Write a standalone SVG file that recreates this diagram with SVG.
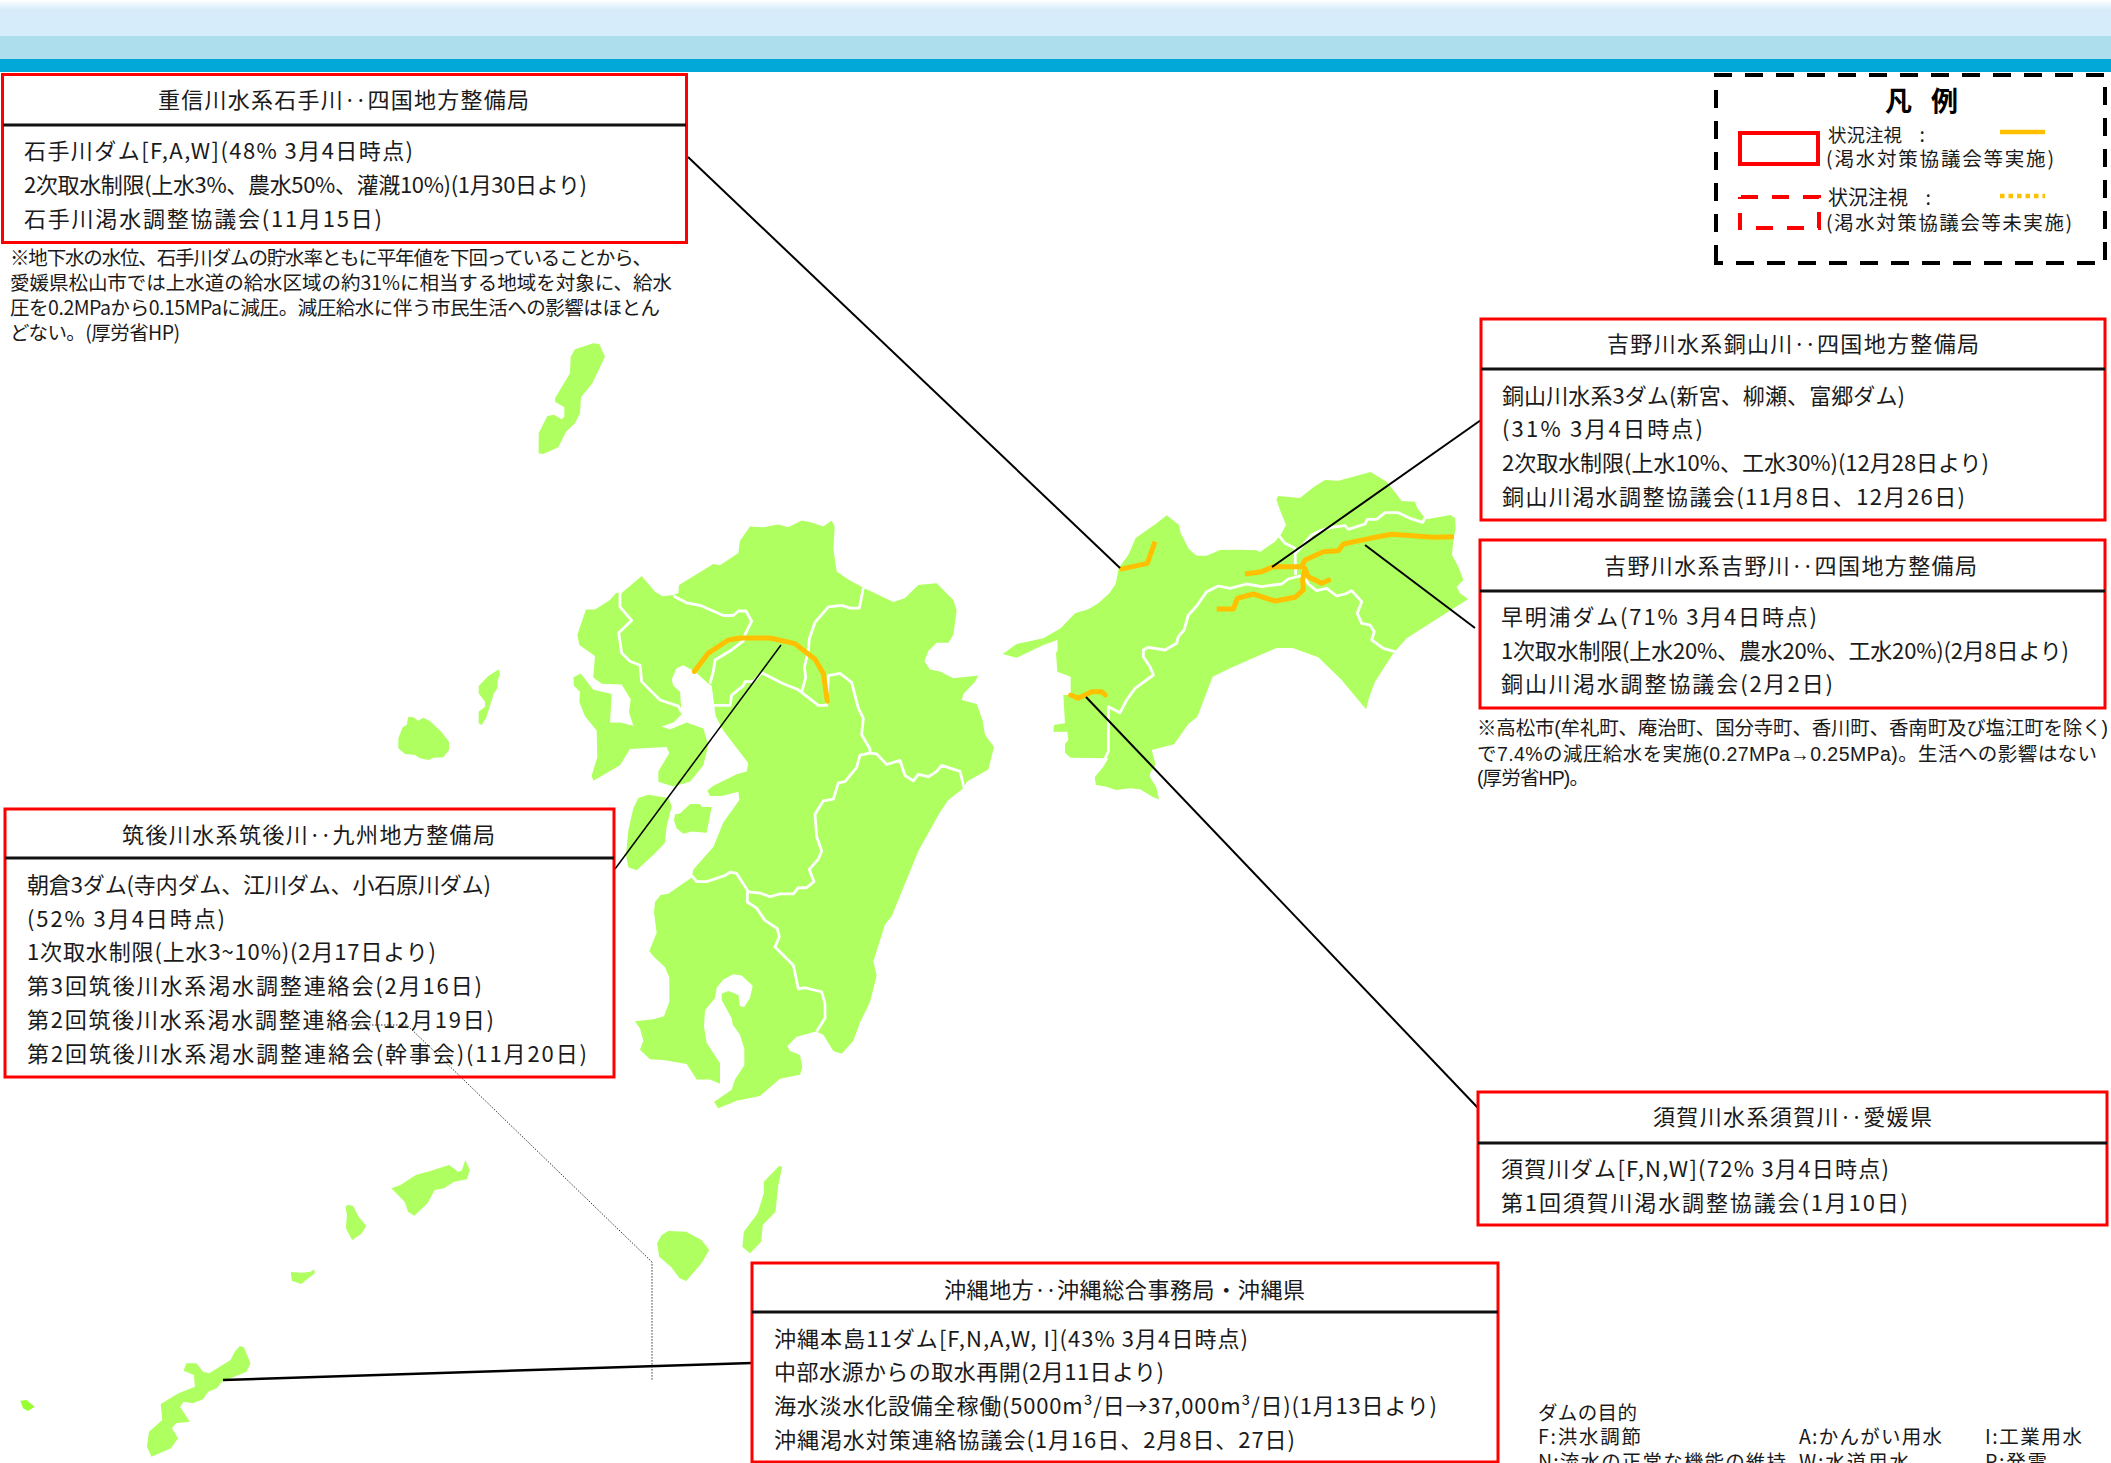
<svg xmlns="http://www.w3.org/2000/svg" width="2111" height="1463" viewBox="0 0 2111 1463">
<style>
text{font-family:"Noto Sans CJK JP","Liberation Sans",sans-serif;fill:#1a1a1a;font-size:22px}
.note{font-size:19.500px}
.note2{font-size:19.500px;font-family:"Liberation Sans","Noto Sans CJK JP",sans-serif}
.leg{font-size:19.500px}
.land{fill:#AEFF5F;stroke:none}
.bound{fill:none;stroke:#fff;stroke-width:2.800;stroke-linejoin:round;vector-effect:non-scaling-stroke}
.river{fill:none;stroke:#FFC000;stroke-width:5;stroke-linejoin:round;vector-effect:non-scaling-stroke}
.box{fill:none;stroke:#FF0000;stroke-width:3}
.div{stroke:#111;stroke-width:3}
.con{stroke:#000;stroke-width:2;fill:none}
</style>
<defs>
<linearGradient id="top" x1="0" y1="0" x2="0" y2="1"><stop offset="0" stop-color="#fff"/><stop offset="0.28" stop-color="#D6ECFA"/><stop offset="1" stop-color="#D6ECFA"/></linearGradient>
</defs>
<rect width="2111" height="1463" fill="#fff"/>
<g id="header">
<rect x="0" y="0" width="2111" height="36" fill="url(#top)"/>
<rect x="0" y="36" width="2111" height="23" fill="#ADDEEE"/>
<rect x="0" y="59" width="2111" height="13" fill="#02A9D8"/>
</g>
<g id="map">
<g id="shikoku" transform="translate(980,440) scale(.33333)">
<path class="land" d="M68,642L110,612L190,595L242,565L285,520L325,508L355,490L388,460L407,432L416,385L445,345L467,294L530,250L560,226L597,255L602,280L627,328L650,347L680,347L720,330L775,329L830,331L840,336L885,305L905,280L918,255L900,210L889,178L895,168L960,174L1000,142L1035,120L1075,122L1172,96L1220,125L1240,150L1265,183L1305,185L1312,205L1332,230L1340,238L1412,225L1425,235L1427,265L1420,300L1416,345L1435,380L1450,420L1430,440L1440,460L1465,477L1400,518L1280,595L1240,640L1185,725L1168,770L1158,808L1085,720L1015,652L938,624L890,624L840,645L750,685L698,710L675,770L652,830L625,852L582,913L515,930L527,975L510,1000L510,1012L528,1040L537,1078L520,1072L480,1048L450,1045L408,1050L380,1040L348,1035L344,1012L370,980L385,955L272,953L255,938L255,912L265,900L262,875L220,875L222,855L255,850L250,765L272,765L272,710L232,695L228,640L233,630L232,600L190,615L110,653Z"/>
<path class="bound" d="M1245,635L1210,625L1175,600L1183,575L1170,555L1145,550L1132,520L1145,485L1115,452L1095,462L1070,468L1040,445L1010,452L985,432L975,415L960,408L925,417L905,432L880,435L845,440L800,432L750,445L715,438L680,455L650,498L625,525L612,570L595,590L590,610L555,630L505,622L490,630L490,650L510,680L520,705L465,745L440,780L420,818L385,800L385,935L375,955"/>
<path class="bound" d="M895,285L915,310L945,325L947,405"/>
<path class="bound" d="M947,340L995,285L1020,272L1055,262L1095,257L1105,268L1155,252L1162,238L1190,238L1215,218L1255,218L1290,235L1328,247L1335,233"/>
<path class="river" d="M420,388L502,370L525,305"/>
<path class="river" d="M795,402L845,395L880,380L965,380L975,360L1030,335L1075,332L1090,312L1170,295L1235,283L1360,292L1422,290"/>
<path class="river" d="M710,507L760,507L772,475L820,462L885,483L945,472L970,450L968,420L975,385L985,410L1025,430L1052,418"/>
<path class="river" stroke-linecap="round" d="M272,765L295,775L335,755L365,755L376,765"/>
</g>
<g id="kyushu" transform="translate(540,500) scale(.33333,.40816)">
<path class="land" d="M138,268L165,268L210,245L228,228L245,228L305,186L345,225L368,236L400,233L415,228L417,208L520,157L540,160L595,130L600,100L630,65L670,67L715,60L745,67L785,50L815,55L850,65L875,50L884,65L880,120L890,175L925,195L970,215L1060,250L1095,240L1135,208L1190,204L1240,245L1250,270L1240,330L1225,350L1190,350L1165,370L1153,395L1170,415L1200,420L1240,437L1315,430L1305,445L1270,475L1265,490L1310,500L1328,540L1335,575L1362,605L1345,660L1280,690L1272,705L1225,735L1200,765L1135,860L1055,1020L1035,1040L1000,1130L1010,1165L990,1230L960,1280L940,1325L905,1357L880,1350L850,1310L828,1302L770,1315L742,1338L750,1350L780,1360L787,1390L780,1408L720,1418L660,1460L590,1472L535,1490L522,1475L575,1445L585,1420L613,1385L613,1345L600,1310L578,1285L575,1270L545,1225L545,1210L565,1203L595,1213L600,1240L612,1243L630,1220L638,1190L605,1165L580,1162L550,1175L530,1195L525,1220L495,1250L492,1290L500,1330L540,1380L540,1430L510,1420L470,1420L440,1382L370,1372L330,1370L300,1347L310,1325L300,1295L285,1277L340,1272L372,1265L388,1230L388,1170L375,1145L340,1118L328,1105L350,1060L342,1010L345,985L362,968L385,965L455,925L460,905L520,850L550,790L598,735L595,715L545,725L510,725L502,712L520,700L590,672L620,665L625,645L550,565L527,530L515,455L505,450L465,420L430,405L410,412L395,440L400,455L420,470L425,525L400,545L365,555L390,562L440,545L490,560L505,600L490,650L450,690L400,702L355,690L355,665L388,620L380,605L270,610L240,650L160,688L155,675L172,630L170,565L135,530L118,495L120,470L102,455L100,435L122,425L160,465L215,475L210,545L240,545L280,553L267,520L272,488L245,452L185,450L160,435L165,382L118,355L112,330Z"/>
<path class="land" d="M295,730L325,722L385,730L395,750L380,800L375,840L340,870L290,907L265,900L258,870L265,810L280,755Z"/>
<path class="land" d="M405,770L420,768L450,745L480,745L485,752L515,752L500,815L455,812L430,818L410,805L402,785Z"/>
<path class="bound" d="M240,228L240,262L275,295L236,325L245,375L270,395L300,405L305,445L360,490L415,505L425,520"/>
<path class="bound" d="M400,235L440,252L480,258L550,283L580,283L595,272L618,272L635,297L615,330L610,345L570,370L525,392L520,420L510,450"/>
<path class="bound" d="M970,215L958,265L930,265L905,258L865,262L825,300L808,340L805,370L793,410L797,435L785,470"/>
<path class="bound" d="M515,503L570,503L575,478L610,455L615,445L640,445L665,423L730,450L775,465L835,503L860,503L865,430L900,425L935,447L955,510L970,535L965,575L990,610L990,620L960,625L950,655L915,690L895,693L880,733L850,737L825,770L830,825L845,860L835,880L808,905L822,935L800,950L775,950L760,965L720,965L690,972L660,963L625,960L590,915L570,912L555,920L500,935L470,935L455,920"/>
<path class="bound" d="M990,620L1010,622L1040,648L1080,638L1095,675L1120,688L1135,672L1165,678L1190,665L1205,650L1260,665L1272,705"/>
<path class="bound" d="M622,960L622,985L650,1000L675,1030L712,1050L718,1070L705,1095L760,1140L775,1198L795,1195L845,1205L855,1235L855,1270L830,1302"/>
<path class="river" stroke-linecap="round" d="M463,420L505,375L565,343L600,338L690,338L765,352L825,390L850,425L862,493"/>
</g>
<g id="northwest-islands" transform="translate(380,320) scale(.33333)">
<path class="land" d="M640,70L658,72L675,110L637,190L603,232L600,280L585,310L558,335L535,382L490,402L476,400L476,340L502,288L522,284L545,298L553,290L553,262L525,245L525,235L570,160L572,110L585,88Z"/>
<path class="land" d="M357,1048L360,1065L353,1080L352,1105L342,1120L318,1195L305,1215L296,1210L296,1175L315,1160L315,1145L296,1120L296,1098L325,1068Z"/>
<path class="land" d="M85,1190L100,1192L115,1202L130,1193L150,1203L185,1237L207,1265L207,1290L190,1312L160,1313L147,1320L120,1315L105,1305L75,1302L55,1285L55,1255L68,1222L80,1215Z"/>
</g>
<g id="southwest-islands" transform="translate(0,1100) scale(.5102,.33333)">
<path class="land" d="M470,738L478,742L491,790L483,815L435,845L425,865L408,875L398,898L378,910L360,905L353,920L372,965L345,970L337,985L349,1015L335,1045L297,1070L288,1040L292,995L318,960L315,912L350,880L382,860L380,825L360,812L365,790L385,790L398,815L410,820L452,780L460,755Z"/>
<path d="M40,902L52,900L68,920L55,933L45,925Z" fill="#99FF33"/>
<path class="land" d="M570,516L590,518L608,516L616,508L617,520L590,552L572,542Z"/>
<path class="land" d="M682,314L692,318L703,350L718,378L708,402L690,420L678,385L680,345L677,320Z"/>
<path class="land" d="M767,265L785,255L815,225L845,212L880,195L898,215L905,212L912,180L921,210L915,238L890,245L870,265L852,270L838,310L812,347L800,335L793,305Z"/>
<path class="land" d="M1310,393L1345,395L1375,420L1390,450L1375,490L1345,543L1332,535L1315,500L1292,470L1288,430L1297,405Z"/>
<path class="land" d="M1527,198L1533,200L1525,260L1520,335L1495,375L1492,425L1470,460L1455,440L1458,395L1485,340L1497,280L1497,245Z"/>
</g>
</g>
<g id="connectors">
<line class="con" x1="688" y1="157" x2="1120" y2="568"/>
<line class="con" x1="1481" y1="420" x2="1272" y2="567"/>
<line class="con" x1="1475" y1="628" x2="1365" y2="545"/>
<line class="con" x1="1086" y1="697" x2="1478" y2="1108"/>
<line class="con" style="stroke-width:1.500" x1="615" y1="869" x2="781" y2="645"/>
<line class="con" style="stroke-width:2.500" x1="223" y1="1380" x2="752" y2="1363"/>
<path fill="none" stroke="#333" stroke-width="1" stroke-dasharray="1.500 1.500" d="M345,1025H407L652,1262V1381"/>
</g>
<g id="node-shigenobu">
<rect class="box" x="2.500" y="74.500" width="684" height="168"/>
<line class="div" x1="3" y1="125" x2="686" y2="125"/>
<text x="158" y="108" textLength="371">重信川水系石手川‥四国地方整備局</text>
<text x="24" y="159" textLength="389">石手川ダム[F,A,W](48%  3月4日時点)</text>
<text x="24" y="193" textLength="563">2次取水制限(上水3%、農水50%、灌漑10%)(1月30日より)</text>
<text x="24" y="227" textLength="358">石手川渇水調整協議会(11月15日)</text>
</g>
<g id="note-shigenobu">
<text class="note" x="10" y="265" textLength="642">※地下水の水位、石手川ダムの貯水率ともに平年値を下回っていることから、</text>
<text class="note" x="10" y="290" textLength="662">愛媛県松山市では上水道の給水区域の約31%に相当する地域を対象に、給水</text>
<text class="note" x="10" y="315" textLength="650">圧を0.2MPaから0.15MPaに減圧。減圧給水に伴う市民生活への影響はほとん</text>
<text class="note" x="10" y="340" textLength="170">どない。(厚労省HP)</text>
</g>
<g id="legend">
<path fill="none" stroke="#000" stroke-width="4" stroke-dasharray="18 13" d="M1716,263V75H2105V263Z"/>
<text x="1885" y="111" style="font-size:27px;font-weight:700;fill:#000">凡</text>
<text x="1931" y="111" style="font-size:27px;font-weight:700;fill:#000">例</text>
<rect x="1740" y="133" width="78" height="31" fill="none" stroke="#FF0000" stroke-width="4"/>
<text class="leg" x="1828" y="142" style="font-size:18.500px">状況注視</text>
<text class="leg" x="1919.500" y="142">:</text>
<text class="leg" x="1826" y="166" textLength="228">(渇水対策協議会等実施)</text>
<line x1="2000" y1="132" x2="2045" y2="132" stroke="#FFC000" stroke-width="4.500"/>
<path fill="none" stroke="#FF0000" stroke-width="4" stroke-dasharray="17 14" d="M1741,197H1819V228H1740V197"/>
<text class="leg" x="1828" y="205" style="font-size:20px">状況注視</text>
<text class="leg" x="1925.500" y="205">:</text>
<text class="leg" x="1826" y="230" textLength="246">(渇水対策協議会等未実施)</text>
<line x1="2000" y1="196" x2="2045" y2="196" stroke="#FFC000" stroke-width="4.500" stroke-dasharray="4.500 4"/>
</g>
<g id="node-dozan">
<rect class="box" x="1481" y="319" width="624" height="201"/>
<line class="div" x1="1481" y1="369" x2="2105" y2="369"/>
<text x="1607" y="352" textLength="372">吉野川水系銅山川‥四国地方整備局</text>
<text x="1502" y="404" textLength="403">銅山川水系3ダム(新宮、柳瀬、富郷ダム)</text>
<text x="1502" y="437" textLength="201">(31%  3月4日時点)</text>
<text x="1502" y="471" textLength="487">2次取水制限(上水10%、工水30%)(12月28日より)</text>
<text x="1502" y="505" textLength="463">銅山川渇水調整協議会(11月8日、12月26日)</text>
</g>
<g id="node-yoshino">
<rect class="box" x="1480" y="540" width="625" height="168"/>
<line class="div" x1="1480" y1="591" x2="2105" y2="591"/>
<text x="1604" y="574" textLength="373">吉野川水系吉野川‥四国地方整備局</text>
<text x="1501" y="625" textLength="316">早明浦ダム(71%  3月4日時点)</text>
<text x="1501" y="659" textLength="568">1次取水制限(上水20%、農水20%、工水20%)(2月8日より)</text>
<text x="1501" y="692" textLength="332">銅山川渇水調整協議会(2月2日)</text>
</g>
<g id="note-yoshino">
<text class="note2" x="1477" y="735" textLength="631">※高松市(牟礼町、庵治町、国分寺町、香川町、香南町及び塩江町を除く)</text>
<text class="note2" x="1477" y="761" textLength="620">で7.4%の減圧給水を実施(0.27MPa→0.25MPa)。生活への影響はない</text>
<text class="note2" x="1477" y="785" textLength="112">(厚労省HP)。</text>
</g>
<g id="node-chikugo">
<rect class="box" x="5" y="809" width="609" height="268"/>
<line class="div" x1="5" y1="858" x2="614" y2="858"/>
<text x="122" y="843" textLength="373">筑後川水系筑後川‥九州地方整備局</text>
<text x="27" y="893" textLength="464">朝倉3ダム(寺内ダム、江川ダム、小石原川ダム)</text>
<text x="27" y="927" textLength="198">(52%  3月4日時点)</text>
<text x="27" y="960" textLength="409">1次取水制限(上水3~10%)(2月17日より)</text>
<text x="27" y="994" textLength="455">第3回筑後川水系渇水調整連絡会(2月16日)</text>
<text x="27" y="1028" textLength="467">第2回筑後川水系渇水調整連絡会(12月19日)</text>
<text x="27" y="1062" textLength="560">第2回筑後川水系渇水調整連絡会(幹事会)(11月20日)</text>
</g>
<g id="node-suga">
<rect class="box" x="1478" y="1092" width="629" height="133"/>
<line class="div" x1="1478" y1="1143" x2="2107" y2="1143"/>
<text x="1653" y="1125" textLength="279">須賀川水系須賀川‥愛媛県</text>
<text x="1501" y="1177" textLength="388">須賀川ダム[F,N,W](72%  3月4日時点)</text>
<text x="1501" y="1211" textLength="407">第1回須賀川渇水調整協議会(1月10日)</text>
</g>
<g id="node-okinawa">
<rect class="box" x="752" y="1263" width="746" height="199"/>
<line class="div" x1="752" y1="1312" x2="1498" y2="1312"/>
<text x="944" y="1298" textLength="361">沖縄地方‥沖縄総合事務局・沖縄県</text>
<text x="774" y="1347" textLength="474">沖縄本島11ダム[F,N,A,W, I](43%  3月4日時点)</text>
<text x="774" y="1380" textLength="390">中部水源からの取水再開(2月11日より)</text>
<text x="774" y="1414" textLength="663">海水淡水化設備全稼働(5000m³/日→37,000m³/日)(1月13日より)</text>
<text x="774" y="1448" textLength="521">沖縄渇水対策連絡協議会(1月16日、2月8日、27日)</text>
</g>
<g id="dam-purpose">
<text class="leg" x="1538" y="1420" textLength="99">ダムの目的</text>
<text class="leg" x="1538" y="1444" textLength="103">F:洪水調節</text>
<text class="leg" x="1799" y="1444" textLength="143">A:かんがい用水</text>
<text class="leg" x="1985" y="1444" textLength="97">I:工業用水</text>
<text class="leg" x="1538" y="1469" textLength="248">N:流水の正常な機能の維持</text>
<text class="leg" x="1799" y="1469" textLength="110">W:水道用水</text>
<text class="leg" x="1985" y="1469" textLength="62">P:発電</text>
</g>
</svg>
